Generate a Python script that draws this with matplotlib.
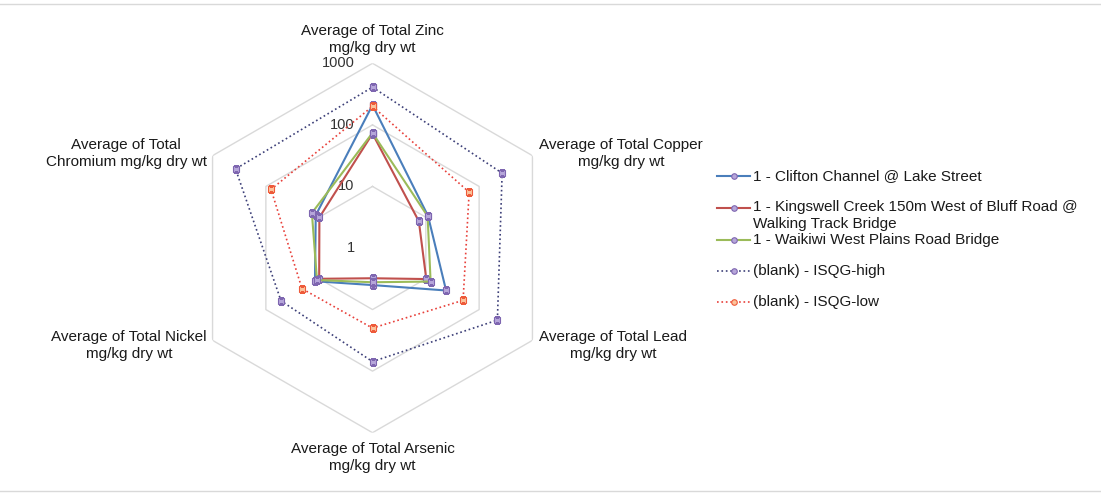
import numpy as np
import matplotlib
matplotlib.use('Agg')
import matplotlib.pyplot as plt
from matplotlib.lines import Line2D
from matplotlib.ticker import NullLocator

plt.rcParams['font.family'] = ['Liberation Sans', 'DejaVu Sans']

# data (clockwise from the top)
categories = ['Average of Total Zinc\nmg/kg dry wt',
              'Average of Total Copper\nmg/kg dry wt',
              'Average of Total Lead\nmg/kg dry wt',
              'Average of Total Arsenic\nmg/kg dry wt',
              'Average of Total Nickel\nmg/kg dry wt',
              'Average of Total\nChromium mg/kg dry wt']
clifton = [210, 11, 24, 4.0, 12, 11.6]
kingswell = [72, 7.4, 10.2, 3.1, 10, 9.9]
waikiwi = [74, 10.8, 12.3, 3.6, 11, 13.7]
isqg_high = [410, 270, 220, 70, 52, 370]
isqg_low = [200, 65, 50, 20, 21, 80]
ring_values = [1, 10, 100, 1000]
ring_labels = ['1', '10', '100', '1000']

series_names = ['1 - Clifton Channel @ Lake Street',
                '1 - Kingswell Creek 150m West of Bluff Road @\nWalking Track Bridge',
                '1 - Waikiwi West Plains Road Bridge',
                '(blank) - ISQG-high',
                '(blank) - ISQG-low']

W, H = 1101, 494
fig = plt.figure(figsize=(W / 100, H / 100), dpi=100)

# radar area: centre and radius in pixels
cx, cy, R = 372.5, 248, 184.7
ax = fig.add_axes([(cx - R) / W, (H - cy - R) / H, 2 * R / W, 2 * R / H], projection='polar')
ax.set_theta_offset(np.pi / 2)
ax.set_theta_direction(-1)
ax.set_rscale('log')
ax.set_rlim(1, 1000)
ax.grid(False)
ax.spines['polar'].set_visible(False)
ax.set_xticks([])
ax.set_yticks([])
ax.yaxis.set_minor_locator(NullLocator())
ax.patch.set_alpha(0)

theta = np.linspace(0, 2 * np.pi, len(categories), endpoint=False)
theta_c = np.append(theta, theta[0])


def closed(vals):
    return np.append(vals, vals[0])


# hexagon gridlines
for v in ring_values[1:]:
    ax.plot(theta_c, [v] * len(theta_c), color='#d9d9d9', lw=1.0, zorder=0)

for v, lab in zip(ring_values, ring_labels):
    ax.annotate(lab, xy=(0, v), xytext=(-18, 0), textcoords='offset pixels',
                ha='right', va='center', fontsize=10.5, color='#333333')

# category labels
label_pos = [((0, 8), 'center', 'bottom'),
             ((7, 2), 'left', 'center'),
             ((7, -5), 'left', 'center'),
             ((0, -9), 'center', 'top'),
             ((-6, -5), 'right', 'center'),
             ((-6, 2), 'right', 'center')]
for t, cat, (off, ha, va) in zip(theta, categories, label_pos):
    ax.annotate(cat, xy=(t, 1000), xytext=off, textcoords='offset pixels',
                ha=ha, va=va, multialignment='center', fontsize=11,
                linespacing=1.3, color='#1a1a1a', annotation_clip=False)

purple_face = '#b6a6da'
purple_edge = '#7e66b0'
styles = [
    dict(color='#4a7ebb', ls='-', lw=1.5, mfc=purple_face, mec=purple_edge),
    dict(color='#c0504d', ls='-', lw=1.5, mfc=purple_face, mec=purple_edge),
    dict(color='#9bbb59', ls='-', lw=1.5, mfc=purple_face, mec=purple_edge),
    dict(color='#3c3f78', ls=':', lw=1.2, mfc=purple_face, mec=purple_edge),
    dict(color='#e8403a', ls=':', lw=1.2, mfc='#fbc39c', mec='#ee5a3a'),
]
all_series = [clifton, kingswell, waikiwi, isqg_high, isqg_low]

for vals, st in zip(all_series, styles):
    ax.plot(theta_c, closed(vals), color=st['color'], ls=st['ls'], lw=st['lw'],
            marker='s', markersize=4.5, markerfacecolor=st['mfc'],
            markeredgecolor=st['mec'], markeredgewidth=0.8, zorder=3)

# legend drawn by hand to keep Excel's layout
leg_y = [176, 208, 240, 271, 302]
for y, name, st in zip(leg_y, series_names, styles):
    yf = 1 - y / H
    fig.add_artist(Line2D([717 / W, 750 / W], [yf, yf], transform=fig.transFigure,
                          color=st['color'], ls=st['ls'], lw=st['lw']))
    fig.add_artist(Line2D([733.5 / W], [yf], transform=fig.transFigure, marker='o',
                          markersize=4, markerfacecolor=st['mfc'],
                          markeredgecolor=st['mec'], markeredgewidth=0.8))
    if '\n' in name:
        fig.text(753 / W, yf + 8 / H, name, ha='left', va='top',
                 fontsize=11, color='#1a1a1a', linespacing=1.3)
    else:
        fig.text(753 / W, yf, name, ha='left', va='center',
                 fontsize=11, color='#1a1a1a')

# thin frame lines at top and bottom
for y in [4, 491]:
    fig.add_artist(Line2D([0, 1], [1 - y / H, 1 - y / H], transform=fig.transFigure,
                          color='#d9d9d9', lw=1.0))

fig.savefig('out.png', dpi=100)
